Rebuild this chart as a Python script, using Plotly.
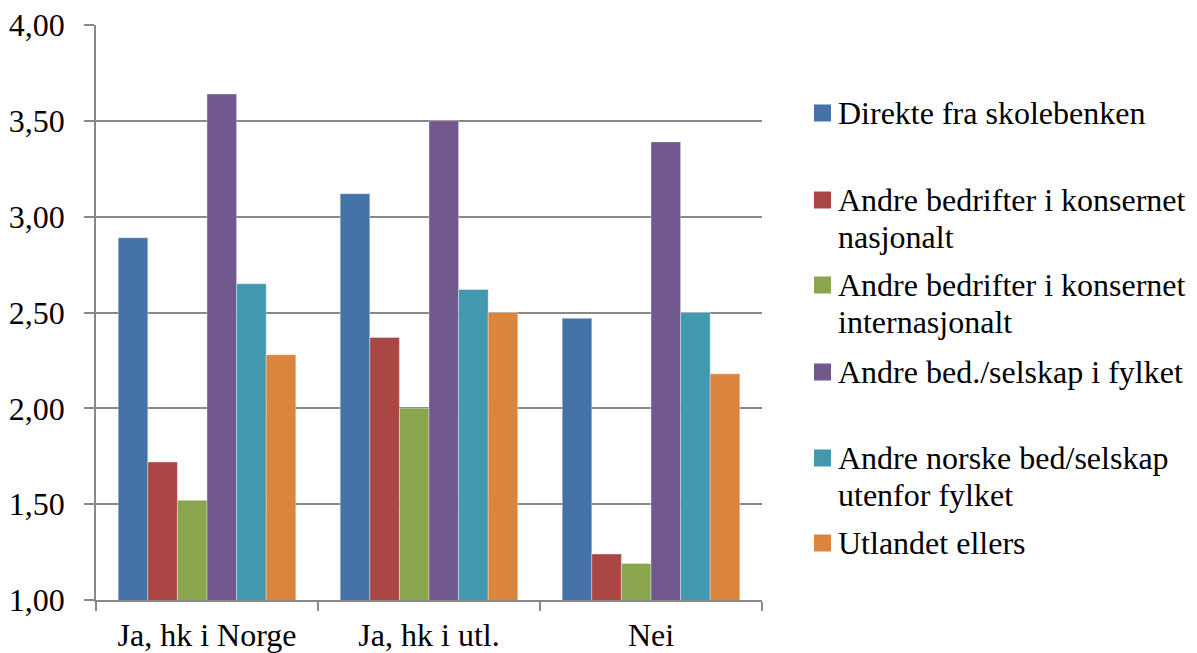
import plotly.graph_objects as go

# Categories on the x axis
categories = ["Ja, hk i Norge", "Ja, hk i utl.", "Nei"]

# Series names (legend text, one list entry per printed line)
series_names = [
    ["Direkte fra skolebenken"],
    ["Andre bedrifter i konsernet", "nasjonalt"],
    ["Andre bedrifter i konsernet", "internasjonalt"],
    ["Andre bed./selskap i fylket"],
    ["Andre norske bed/selskap", "utenfor fylket"],
    ["Utlandet ellers"],
]

# Mean scores per series, in category order
direkte = [2.89, 3.12, 2.47]
konsern_nasjonalt = [1.72, 2.37, 1.24]
konsern_internasjonalt = [1.52, 2.00, 1.19]
fylket = [3.64, 3.50, 3.39]
utenfor_fylket = [2.65, 2.62, 2.50]
utlandet = [2.28, 2.50, 2.18]

series_values = [direkte, konsern_nasjonalt, konsern_internasjonalt,
                 fylket, utenfor_fylket, utlandet]

colors = ["#4572A7", "#AA4643", "#89A54E", "#71588F", "#4198AF", "#DB843D"]

y_ticks = [1.0, 1.5, 2.0, 2.5, 3.0, 3.5, 4.0]

FONT = "Liberation Serif"
FONT_SIZE = 32
AXIS_GREY = "#888888"

W, H = 1197, 653
M_L, M_R, M_T, M_B = 96, 435, 25, 53
plot_w = W - M_L - M_R
plot_h = H - M_T - M_B

fig = go.Figure()
for names, vals, col in zip(series_names, series_values, colors):
    fig.add_trace(go.Bar(
        x=categories, y=vals, name=" ".join(names),
        marker=dict(color=col, line=dict(color="rgba(255,255,255,0.35)", width=1)),
        showlegend=False,
    ))

# Legend drawn at the right of the plot: colour square + text lines
legend_rows_px = [113, 200, 285, 372, 458, 543]   # first-line centre, pixels from top
line_step_px = 37
square_px = 17
sq_left_px, text_left_px = 814, 836


def px_to_paper_x(px):
    return (px - M_L) / plot_w


def px_to_paper_y(py):
    return (H - M_B - py) / plot_h


shapes = []
annotations = []
for names, col, row in zip(series_names, colors, legend_rows_px):
    shapes.append(dict(
        type="rect", xref="paper", yref="paper",
        x0=px_to_paper_x(sq_left_px), x1=px_to_paper_x(sq_left_px + square_px),
        y0=px_to_paper_y(row + square_px / 2), y1=px_to_paper_y(row - square_px / 2),
        fillcolor=col, line=dict(width=0),
    ))
    for i, line in enumerate(names):
        annotations.append(dict(
            text=line, xref="paper", yref="paper",
            x=px_to_paper_x(text_left_px), y=px_to_paper_y(row + i * line_step_px),
            xanchor="left", yanchor="middle", showarrow=False,
            font=dict(family=FONT, size=FONT_SIZE, color="black"),
        ))

fig.update_layout(
    width=W, height=H,
    margin=dict(l=M_L, r=M_R, t=M_T, b=M_B),
    paper_bgcolor="white", plot_bgcolor="white",
    barmode="group", bargap=0.2, bargroupgap=0,
    separators=", ",
    font=dict(family=FONT, size=FONT_SIZE, color="black"),
    shapes=shapes, annotations=annotations,
    showlegend=False,
)
fig.update_xaxes(
    type="category", automargin=False,
    showline=True, linecolor=AXIS_GREY, linewidth=1.5,
    ticks="outside", tickson="boundaries", ticklen=9, tickwidth=1.5, tickcolor=AXIS_GREY,
    showgrid=False,
    ticklabelstandoff=6,
    tickfont=dict(family=FONT, size=FONT_SIZE, color="black"),
)
fig.update_yaxes(
    automargin=False,
    range=[1, 4], tickvals=y_ticks, tickformat=".2f",
    showline=True, linecolor=AXIS_GREY, linewidth=1.5,
    ticks="outside", ticklen=10, tickwidth=1.5, tickcolor=AXIS_GREY,
    showgrid=True, gridcolor=AXIS_GREY, gridwidth=1.5,
    zeroline=False,
    ticklabelstandoff=13,
    tickfont=dict(family=FONT, size=FONT_SIZE, color="black"),
)

fig.write_html("out.html")
